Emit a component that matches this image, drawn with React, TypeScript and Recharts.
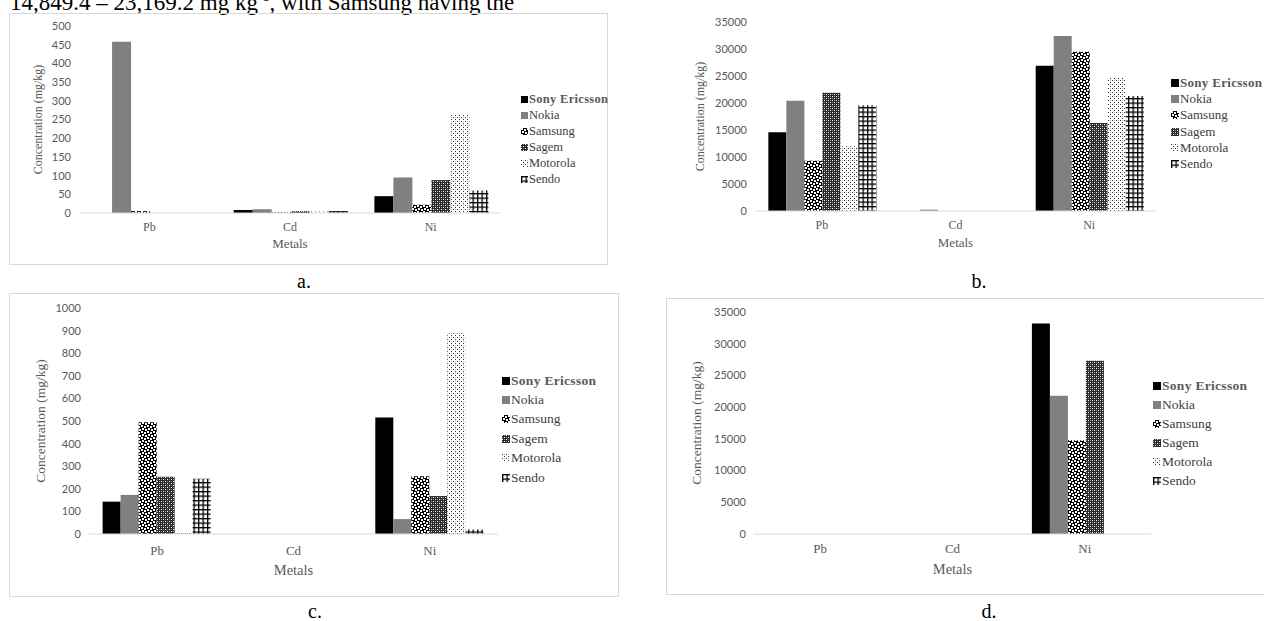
import React from 'react';
import { BarChart, Bar, XAxis, YAxis, Legend } from 'recharts';

const metals = ['Pb', 'Cd', 'Ni'];
const brands = ['Sony Ericsson', 'Nokia', 'Samsung', 'Sagem', 'Motorola', 'Sendo'];

// panel a.
const sonyA = [0, 8, 45];
const nokiaA = [458, 10, 95];
const samsungA = [5, 2, 22];
const sagemA = [0, 5, 88];
const motorolaA = [0, 4, 262];
const sendoA = [0, 5, 60];
const ticksA = [0, 50, 100, 150, 200, 250, 300, 350, 400, 450, 500];

// panel b.
const sonyB = [14600, 0, 26900];
const nokiaB = [20400, 250, 32400];
const samsungB = [9300, 0, 29500];
const sagemB = [21900, 0, 16300];
const motorolaB = [12000, 0, 24800];
const sendoB = [19600, 0, 21300];
const ticksB = [0, 5000, 10000, 15000, 20000, 25000, 30000, 35000];

// panel c.
const sonyC = [143, 0, 515];
const nokiaC = [173, 0, 66];
const samsungC = [494, 0, 255];
const sagemC = [253, 0, 168];
const motorolaC = [5, 0, 888];
const sendoC = [245, 0, 20];
const ticksC = [0, 100, 200, 300, 400, 500, 600, 700, 800, 900, 1000];

// panel d.
const sonyD = [0, 0, 33200];
const nokiaD = [0, 0, 21800];
const samsungD = [0, 0, 14800];
const sagemD = [0, 0, 27300];
const motorolaD = [0, 0, 0];
const sendoD = [0, 0, 0];
const ticksD = [0, 5000, 10000, 15000, 20000, 25000, 30000, 35000];

const fills = ['#000000', '#808080', 'url(#pSamsung)', 'url(#pSagem)', 'url(#pMotorola)', 'url(#pSendo)'];

const makeRows = (series: number[][]) =>
  metals.map((metal, i) => {
    const row: Record<string, any> = { metal };
    brands.forEach((b, j) => {
      row[b] = series[j][i];
    });
    return row;
  });

const SERIF = '"Liberation Serif", "Times New Roman", serif';
const SANS = 'Lato, "Liberation Sans", sans-serif';

const Patterns = () => (
  <svg width={0} height={0} style={{ position: 'absolute' }}>
    <defs>
      <pattern id="pSamsung" width={6} height={6} patternUnits="userSpaceOnUse">
        <rect width={6} height={6} fill="#000" />
        <rect x={0} y={0} width={2} height={2} fill="#fff" />
        <rect x={3} y={1} width={2} height={2} fill="#fff" />
        <rect x={1} y={3} width={2} height={2} fill="#fff" />
        <rect x={4} y={4} width={2} height={2} fill="#fff" />
      </pattern>
      <pattern id="pSagem" width={4} height={4} patternUnits="userSpaceOnUse">
        <rect width={4} height={4} fill="#2a2a2a" />
        <rect x={0} y={0} width={1} height={1} fill="#fff" />
        <rect x={2} y={2} width={1} height={1} fill="#fff" />
        <rect x={2} y={0} width={1} height={1} fill="#8a8a8a" />
        <rect x={0} y={2} width={1} height={1} fill="#8a8a8a" />
      </pattern>
      <pattern id="pMotorola" width={4} height={4} patternUnits="userSpaceOnUse">
        <rect width={4} height={4} fill="#fff" />
        <rect x={0} y={0} width={1} height={1} fill="#333" />
        <rect x={2} y={2} width={1} height={1} fill="#333" />
        <rect x={2} y={0} width={1} height={1} fill="#bbb" />
      </pattern>
      <pattern id="pSendo" width={4.5} height={4.5} patternUnits="userSpaceOnUse">
        <rect width={4.5} height={4.5} fill="#fff" />
        <rect x={0} y={0} width={4.5} height={1.3} fill="#000" />
        <rect x={0} y={0} width={1.3} height={4.5} fill="#000" />
      </pattern>
    </defs>
  </svg>
);

interface PanelCfg {
  rows: Record<string, any>[];
  ticks: number[];
  left: number;
  top: number;
  width: number;
  height: number;
  margin: { top: number; right: number; bottom: number; left: number };
  xHeight: number;
  xTickMargin: number;
  catSize: number;
  titleSize: number;
  metalsOffset: number;
  yTitleOffset: number;
  legendX: number;
  legendY: number;
  legendSize: number;
  rowH: number;
  icon: number;
  border: boolean;
}

const LegendList = ({ cfg }: { cfg: PanelCfg }) => (
  <div style={{ fontFamily: SERIF, fontSize: cfg.legendSize, color: '#404040' }}>
    {brands.map((b, i) => (
      <div key={b} style={{ display: 'flex', alignItems: 'center', whiteSpace: 'nowrap', height: cfg.rowH }}>
        <svg width={cfg.icon} height={cfg.icon} style={{ marginRight: 1 }}>
          <rect width={cfg.icon} height={cfg.icon} fill={fills[i]} />
        </svg>
        <span style={i === 0 ? { fontWeight: 'bold', color: '#595959', letterSpacing: 0.3 } : undefined}>{b}</span>
      </div>
    ))}
  </div>
);

const Panel = ({ cfg }: { cfg: PanelCfg }) => (
  <div
    style={{
      position: 'absolute',
      left: cfg.left,
      top: cfg.top,
      width: cfg.width,
      height: cfg.height,
      boxSizing: 'border-box',
      border: cfg.border ? '1px solid #d9d9d9' : 'none',
    }}
  >
    <div style={{ position: 'absolute', left: cfg.border ? -1 : 0, top: cfg.border ? -1 : 0 }}>
      <BarChart width={cfg.width} height={cfg.height} data={cfg.rows} margin={cfg.margin} barCategoryGap="10%" barGap={0}>
        <XAxis
          dataKey="metal"
          tickLine={false}
          axisLine={{ stroke: '#d9d9d9' }}
          height={cfg.xHeight}
          tickMargin={cfg.xTickMargin}
          interval={0}
          tick={{ fontFamily: SERIF, fontSize: cfg.catSize, fill: '#595959' }}
          label={{
            value: 'Metals',
            position: 'insideBottom',
            offset: cfg.metalsOffset,
            style: { fontFamily: SERIF, fontSize: cfg.titleSize + 1, fill: '#595959' },
          }}
        />
        <YAxis
          width={40}
          domain={[0, cfg.ticks[cfg.ticks.length - 1]]}
          ticks={cfg.ticks}
          interval={0}
          axisLine={false}
          tickLine={false}
          tick={{ fontFamily: SANS, fontSize: 11, fill: '#595959' }}
          label={{
            value: 'Concentration (mg/kg)',
            angle: -90,
            position: 'insideLeft',
            offset: cfg.yTitleOffset,
            style: { textAnchor: 'middle', fontFamily: SERIF, fontSize: cfg.titleSize, fill: '#595959' },
          }}
        />
        <Legend
          layout="vertical"
          align="center"
          verticalAlign="middle"
          width={120}
          wrapperStyle={{ left: cfg.legendX, top: cfg.legendY, bottom: 'auto', right: 'auto' }}
          content={() => <LegendList cfg={cfg} />}
        />
        {brands.map((b, i) => (
          <Bar key={b} dataKey={b} fill={fills[i]} isAnimationActive={false} />
        ))}
      </BarChart>
    </div>
  </div>
);

const panelA: PanelCfg = {
  rows: makeRows([sonyA, nokiaA, samsungA, sagemA, motorolaA, sendoA]),
  ticks: ticksA,
  left: 9, top: 13, width: 599, height: 252,
  margin: { top: 13, right: 107, bottom: 12, left: 30 },
  xHeight: 40, xTickMargin: 3, catSize: 12, titleSize: 12, metalsOffset: 5, yTitleOffset: -1,
  legendX: 512, legendY: 78, legendSize: 12.5, rowH: 16, icon: 7, border: true,
};

const panelB: PanelCfg = {
  rows: makeRows([sonyB, nokiaB, samsungB, sagemB, motorolaB, sendoB]),
  ticks: ticksB,
  left: 660, top: 8, width: 604, height: 260,
  margin: { top: 14, right: 108, bottom: 17, left: 55 },
  xHeight: 40, xTickMargin: 3, catSize: 12, titleSize: 12, metalsOffset: 4, yTitleOffset: -15,
  legendX: 511, legendY: 67, legendSize: 13, rowH: 16.2, icon: 8, border: false,
};

const panelC: PanelCfg = {
  rows: makeRows([sonyC, nokiaC, samsungC, sagemC, motorolaC, sendoC]),
  ticks: ticksC,
  left: 9, top: 293, width: 610, height: 304,
  margin: { top: 15, right: 121, bottom: 19, left: 40 },
  xHeight: 44, xTickMargin: 6, catSize: 13, titleSize: 13.5, metalsOffset: 3, yTitleOffset: -9,
  legendX: 493, legendY: 78, legendSize: 13.5, rowH: 19.4, icon: 8, border: true,
};

const panelD: PanelCfg = {
  rows: makeRows([sonyD, nokiaD, samsungD, sagemD, motorolaD, sendoD]),
  ticks: ticksD,
  left: 666, top: 298, width: 610, height: 297,
  margin: { top: 14, right: 125, bottom: 17, left: 48 },
  xHeight: 44, xTickMargin: 4, catSize: 13, titleSize: 13.5, metalsOffset: 4, yTitleOffset: -18,
  legendX: 487, legendY: 78, legendSize: 13.5, rowH: 19, icon: 8, border: true,
};

const Caption = ({ text, x, top }: { text: string; x: number; top: number }) => (
  <div
    style={{
      position: 'absolute',
      left: x,
      top,
      transform: 'translateX(-50%)',
      fontFamily: SERIF,
      fontSize: 20,
      lineHeight: '20px',
      color: '#000',
    }}
  >
    {text}
  </div>
);

export default function App() {
  return (
    <div
      style={{
        position: 'absolute',
        left: 0,
        top: 0,
        width: 1264,
        height: 621,
        overflow: 'hidden',
        background: '#fff',
      }}
    >
      <Patterns />
      {/* running text of the page, cut at the top edge as in the source */}
      <div
        style={{
          position: 'absolute',
          left: 10,
          top: -15,
          fontFamily: SERIF,
          fontSize: 23,
          lineHeight: '23px',
          whiteSpace: 'nowrap',
          color: '#000',
        }}
      >
        14,849.4 – 23,169.2 mg kg<sup style={{ fontSize: 14 }}>-1</sup>, with Samsung having the
      </div>
      <Panel cfg={panelA} />
      <Panel cfg={panelB} />
      <Panel cfg={panelC} />
      <Panel cfg={panelD} />
      <Caption text="a." x={304} top={271} />
      <Caption text="b." x={979} top={271} />
      <Caption text="c." x={315} top={601} />
      <Caption text="d." x={989} top={601} />
    </div>
  );
}
